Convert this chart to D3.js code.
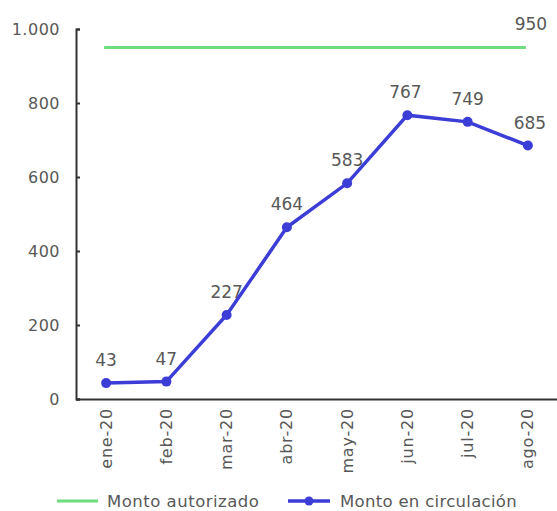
<!DOCTYPE html>
<html><head><meta charset="utf-8">
<script src="https://cdn.jsdelivr.net/npm/d3@7"></script>
<style>body{margin:0;background:#fff}svg{display:block}text{font-family:"DejaVu Sans",sans-serif}</style>
</head><body>
<script>
const categories=["ene-20","feb-20","mar-20","abr-20","may-20","jun-20","jul-20","ago-20"];
const circulacion=[43,47,227,464,583,767,749,685];
const autorizado=[950,950,950,950,950,950,950,950];
const yTicks=[0,200,400,600,800,1000];
const seriesNames=["Monto autorizado","Monto en circulación"];

const W=557,H=511;
const svg=d3.select("body").append("svg").attr("width",W).attr("height",H);
const x=d3.scaleBand().domain(categories).range([76,558]);
const y=d3.scaleLinear().domain([0,1000]).range([399,29]);
const cx=d=>x(d)+x.bandwidth()/2;
const fmt=v=>v>=1000?d3.format(",")(v).replace(",","."):String(v);
const txt="#585858";

// y axis
const ya=svg.append("g").attr("transform","translate(76,0)")
 .call(d3.axisRight(y).tickValues(yTicks).tickSize(4).tickFormat(""));
ya.select(".domain").attr("stroke","#333").attr("stroke-width",2);
ya.selectAll(".tick line").attr("stroke","#333").attr("stroke-width",2);
svg.append("g").selectAll("text").data(yTicks).join("text")
 .attr("x",60).attr("y",d=>y(d)).attr("dy","0.35em").attr("text-anchor","end")
 .attr("font-size",16).attr("letter-spacing",0.5).attr("fill",txt).text(fmt);

// x axis
const xa=svg.append("g").attr("transform","translate(0,399)")
 .call(d3.axisBottom(x).tickSize(0).tickSizeOuter(0));
xa.select(".domain").attr("stroke","#333").attr("stroke-width",2);
xa.selectAll(".tick text").attr("font-size",16).attr("fill",txt)
 .attr("font-family","'DejaVu Sans',sans-serif").attr("letter-spacing",0.8)
 .attr("transform","rotate(-90)").attr("text-anchor","end")
 .attr("x",-9).attr("y",0).attr("dy","0.35em");

// autorizado line
svg.append("path").datum(autorizado)
 .attr("d",d3.line().x((d,i)=>cx(categories[i])-2).y(d=>y(d)))
 .attr("fill","none").attr("stroke","#6fdc7d").attr("stroke-width",3);
svg.append("text").attr("x",cx(categories[7])+3).attr("y",y(autorizado[7])-18)
 .attr("text-anchor","middle").attr("font-size",17).attr("fill",txt).text(autorizado[7]);

// circulacion line
svg.append("path").datum(circulacion)
 .attr("d",d3.line().x((d,i)=>cx(categories[i])).y(d=>y(d)))
 .attr("fill","none").attr("stroke","#3c3cd6").attr("stroke-width",3.5);
svg.append("g").selectAll("circle").data(circulacion).join("circle")
 .attr("cx",(d,i)=>cx(categories[i])).attr("cy",d=>y(d)).attr("r",5).attr("fill","#3c3cd6");
svg.append("g").selectAll("text").data(circulacion).join("text")
 .attr("x",(d,i)=>cx(categories[i])+(i==5?-2:i==7?2:0)).attr("y",d=>y(d)-17)
 .attr("text-anchor","middle").attr("font-size",17).attr("fill",txt).text(d=>d);

// legend
const ly=501;
const lg=svg.append("g");
lg.append("line").attr("x1",57).attr("x2",98).attr("y1",ly).attr("y2",ly).attr("stroke","#6fdc7d").attr("stroke-width",3);
lg.append("text").attr("x",107).attr("y",ly).attr("dy","0.35em").attr("font-size",16.5).attr("letter-spacing",0.5).attr("fill",txt).text(seriesNames[0]);
lg.append("line").attr("x1",288).attr("x2",330).attr("y1",ly).attr("y2",ly).attr("stroke","#3c3cd6").attr("stroke-width",3.5);
lg.append("circle").attr("cx",309).attr("cy",ly).attr("r",4.5).attr("fill","#3c3cd6");
lg.append("text").attr("x",340).attr("y",ly).attr("dy","0.35em").attr("font-size",16.5).attr("letter-spacing",0.3).attr("fill",txt).text(seriesNames[1]);
</script>
</body></html>
